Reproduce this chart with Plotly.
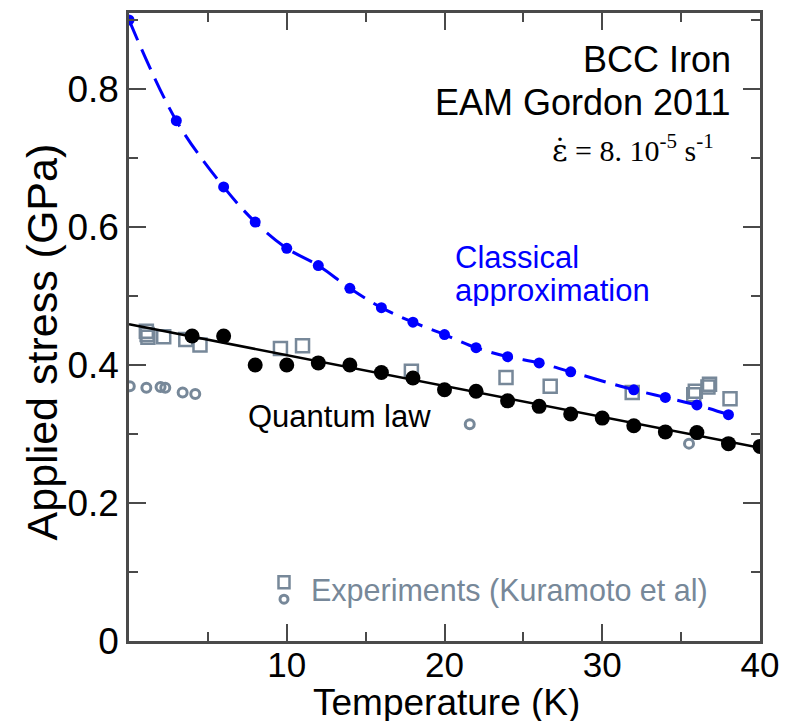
import plotly.graph_objects as go

# Classical (harmonic) approximation: simulated flow stress vs temperature
T_classical = [0, 3, 6, 8, 10, 12, 14, 16, 18, 20, 22, 24, 26, 28, 32, 34, 36, 38]
s_classical = [0.900, 0.754, 0.658, 0.607, 0.569, 0.544, 0.511, 0.483, 0.462, 0.444,
               0.425, 0.412, 0.403, 0.390, 0.364, 0.353, 0.342, 0.328]

# Quantum-corrected simulation points
T_quantum = [4, 6, 8, 10, 12, 14, 16, 18, 20, 22, 24, 26, 28, 30, 32, 34, 36, 38, 40]
s_quantum = [0.442, 0.442, 0.400, 0.400, 0.403, 0.400, 0.389, 0.381, 0.364, 0.362,
             0.348, 0.340, 0.329, 0.323, 0.312, 0.303, 0.302, 0.286, 0.282]

# Linear quantum law
T_law = [0, 40]
s_law = [0.459, 0.280]

# Experiments (Kuramoto et al), two data sets
T_exp_sq = [1.1, 1.15, 1.2, 2.2, 3.6, 4.5, 9.6, 11.0, 17.9, 23.9, 26.7, 31.9, 35.8, 35.9, 36.7, 36.8, 38.1]
s_exp_sq = [0.449, 0.444, 0.440, 0.441, 0.437, 0.429, 0.424, 0.428, 0.391, 0.382, 0.369,
            0.360, 0.357, 0.362, 0.368, 0.372, 0.351]
T_exp_ci = [0.05, 1.1, 2.0, 2.3, 3.4, 4.2, 21.6, 35.5]
s_exp_ci = [0.369, 0.367, 0.368, 0.367, 0.360, 0.358, 0.314, 0.286]

x_ticks = [10, 20, 30, 40]
y_ticks = [0, 0.2, 0.4, 0.6, 0.8]
x_range = [0, 40]
y_range = [0, 0.91]

GREY = "#778899"
AXIS = "#4a4a4a"
FONT = "Liberation Sans, Arial, sans-serif"
SERIF = "Liberation Serif, Times New Roman, serif"

fig = go.Figure()

fig.add_trace(go.Scatter(x=T_exp_sq, y=s_exp_sq, mode="markers",
                         marker=dict(symbol="square-open", size=13, color=GREY,
                                     line=dict(width=2.5, color=GREY)),
                         showlegend=False))
fig.add_trace(go.Scatter(x=T_exp_ci, y=s_exp_ci, mode="markers",
                         marker=dict(symbol="circle-open", size=9, color=GREY,
                                     line=dict(width=3, color=GREY)),
                         showlegend=False))

fig.add_trace(go.Scatter(x=T_classical, y=s_classical, mode="lines",
                         line=dict(color="#0000ff", width=3, dash="22px,10px", shape="spline"),
                         showlegend=False))
fig.add_trace(go.Scatter(x=T_law, y=s_law, mode="lines",
                         line=dict(color="black", width=2.5), showlegend=False))

fig.add_trace(go.Scatter(x=T_classical, y=s_classical, mode="markers",
                         marker=dict(symbol="circle", size=11, color="#0000ff"),
                         showlegend=False))
fig.add_trace(go.Scatter(x=T_quantum, y=s_quantum, mode="markers",
                         marker=dict(symbol="circle", size=15, color="black"),
                         showlegend=False))

# empty trace so the top/right tick axes are drawn
fig.add_trace(go.Scatter(x=[None], y=[None], xaxis="x2", yaxis="y2",
                         mode="markers", showlegend=False, hoverinfo="skip"))

tick_style = dict(ticks="inside", tickcolor=AXIS, tickwidth=2, ticklen=17,
                  showgrid=False, zeroline=False)

x_minor = dict(ticks="inside", ticklen=9, tickwidth=2, tickcolor=AXIS,
               tickmode="linear", tick0=0, dtick=5, showgrid=False)
y_minor = dict(ticks="inside", ticklen=9, tickwidth=2, tickcolor=AXIS,
               tickmode="linear", tick0=0, dtick=0.1, showgrid=False)

fig.update_layout(
    xaxis=dict(range=x_range, tickmode="array", tickvals=x_ticks,
               ticktext=[str(v) for v in x_ticks], minor=x_minor,
               showline=True, linecolor=AXIS, linewidth=2.5, mirror=True,
               tickfont=dict(family=FONT, size=35, color="black"),
               ticklabelstandoff=-9, **tick_style),
    yaxis=dict(range=y_range, tickmode="array", tickvals=y_ticks,
               ticktext=["0", "0.2", "0.4", "0.6", "0.8"], minor=y_minor,
               showline=True, linecolor=AXIS, linewidth=2.5, mirror=True,
               tickfont=dict(family=FONT, size=37, color="black"),
               **tick_style),
    xaxis2=dict(range=x_range, overlaying="x", side="top", anchor="y",
                tickmode="array", tickvals=x_ticks, showticklabels=False,
                minor=x_minor, **tick_style),
    yaxis2=dict(range=y_range, overlaying="y", side="right", anchor="x",
                tickmode="array", tickvals=y_ticks, showticklabels=False,
                minor=y_minor, **tick_style),
)

W, H = 800, 723
L, R, T, B = 129, 40, 10, 82
pw, ph = W - L - R, H - T - B


def px(x):
    return (x - L) / pw


def py(y):
    return (H - B - y) / ph


strain_rate = ('<span style="font-family:DejaVu Serif">\u03b5\u0307</span>'
               ' = 8. 10<sup>-5</sup> s<sup>-1</sup>')

annotations = [
    dict(text="BCC Iron", x=px(733), y=py(57), xanchor="right", yanchor="middle",
         font=dict(family=FONT, size=36, color="black")),
    dict(text="EAM Gordon 2011", x=px(733), y=py(100), xanchor="right", yanchor="middle",
         font=dict(family=FONT, size=36, color="black")),
    dict(text=strain_rate, x=px(550), y=py(146),
         xanchor="left", yanchor="middle",
         font=dict(family=SERIF, size=30, color="black")),
    dict(text="Classical", x=px(453), y=py(255), xanchor="left", yanchor="middle",
         height=32, font=dict(family=FONT, size=31, color="#0000ff")),
    dict(text="approximation", x=px(453), y=py(288), xanchor="left", yanchor="middle",
         height=32, font=dict(family=FONT, size=31, color="#0000ff")),
    dict(text="Quantum law", x=px(246), y=py(415), xanchor="left", yanchor="middle",
         font=dict(family=FONT, size=31, color="black")),
    dict(text="Experiments (Kuramoto et al)", x=px(309), y=py(590), xanchor="left",
         yanchor="middle", font=dict(family=FONT, size=30.5, color=GREY)),
    dict(text="Temperature (K)", x=px(446), y=py(702), xanchor="center", yanchor="middle",
         height=38, font=dict(family=FONT, size=37, color="black")),
    dict(text="Applied stress (GPa)", x=px(42), y=py(341), xanchor="center",
         yanchor="middle", textangle=-90,
         font=dict(family=FONT, size=43, color="black")),
]
for a in annotations:
    a.update(xref="paper", yref="paper", showarrow=False)

# legend keys for the experimental data
shapes = [
    dict(type="rect", xref="paper", yref="paper", xsizemode="pixel", ysizemode="pixel",
         xanchor=px(284), yanchor=py(582), x0=-5.5, x1=5.5, y0=-6, y1=6,
         line=dict(color=GREY, width=2.5)),
    dict(type="circle", xref="paper", yref="paper", xsizemode="pixel", ysizemode="pixel",
         xanchor=px(284), yanchor=py(599), x0=-4, x1=4, y0=-4, y1=4,
         line=dict(color=GREY, width=3)),
]

fig.update_layout(width=W, height=H, margin=dict(l=L, r=R, t=T, b=B),
                  paper_bgcolor="white", plot_bgcolor="white",
                  annotations=annotations, shapes=shapes, showlegend=False)

fig.write_html("out.html")
